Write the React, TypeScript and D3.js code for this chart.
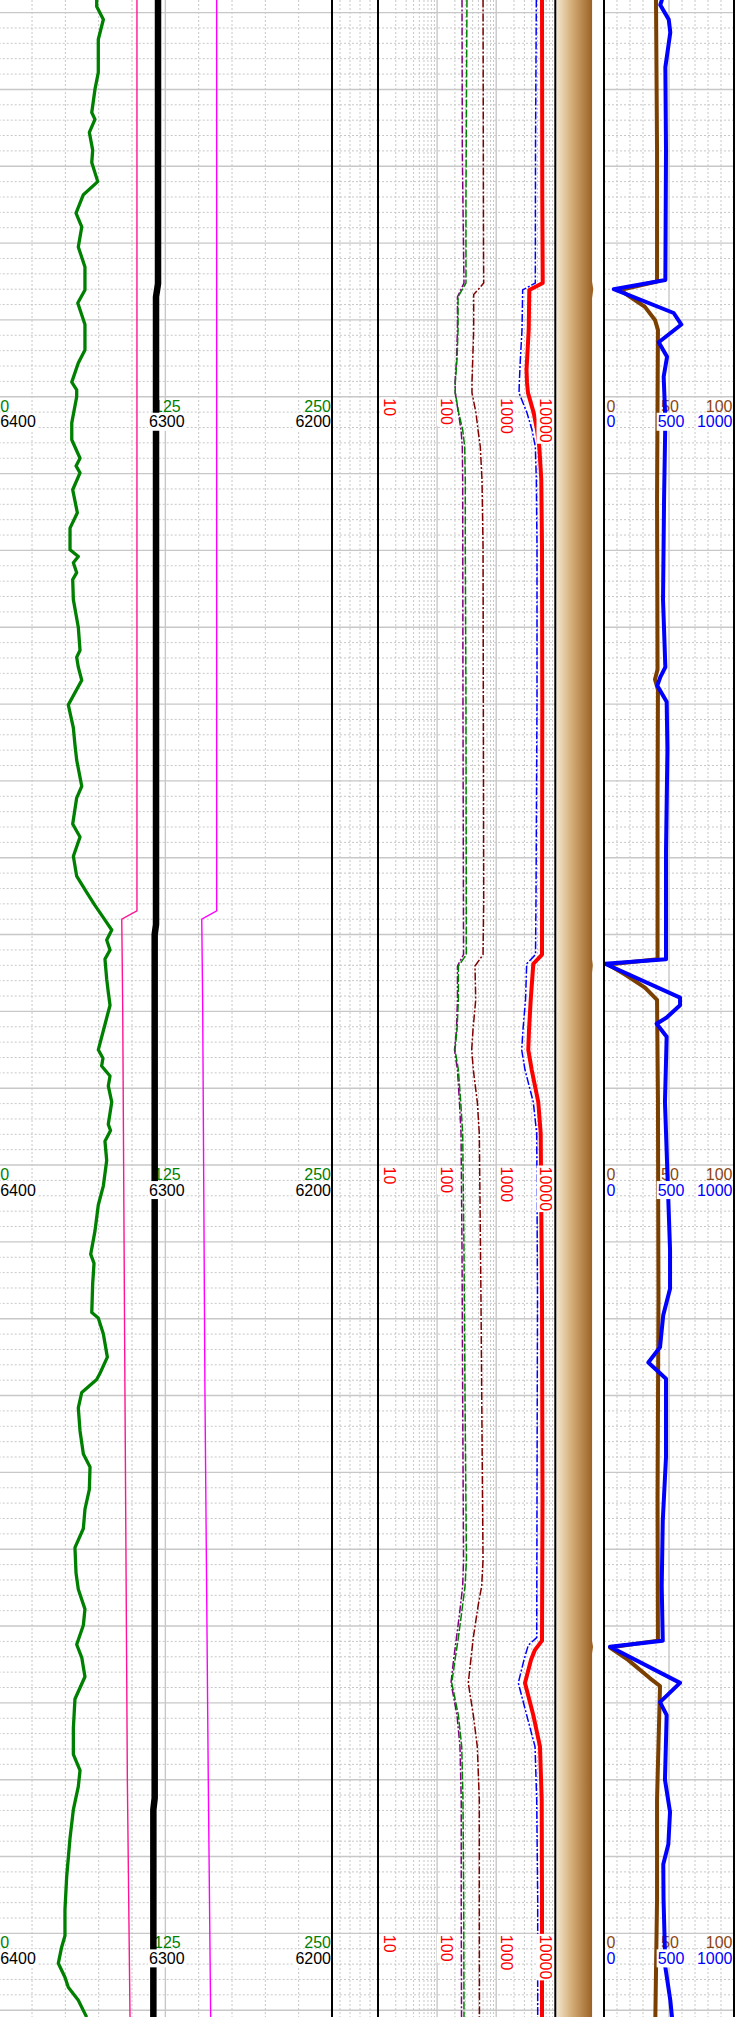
import React from 'react';
import * as d3 from 'd3';

const W = 744;
const H = 2017;

// ---------- depth axis ----------
const DEPTH_DOMAIN = [5000, 5260];
const LABEL_DEPTHS = [5050, 5150, 5250];

// ---------- Track 1 ----------
const GR_DEPTH = [4998.3,4999.2,5000.9,5003.5,5007.8,5010.0,5013.0,5013.9,5015.6,5017.9,5019.5,5022.0,5023.7,5026.1,5027.9,5030.5,5033.1,5036.1,5037.8,5040.6,5043.9,5045.6,5048.1,5049.1,5050.0,5053.4,5055.6,5058.0,5059.0,5059.9,5062.1,5065.1,5067.1,5069.9,5070.8,5071.6,5072.9,5073.8,5076.4,5080.0,5083.0,5083.9,5085.2,5086.9,5090.1,5093.1,5095.3,5097.3,5100.7,5102.2,5105.6,5107.3,5109.8,5112.4,5114.5,5116.2,5117.8,5119.4,5120.7,5122.0,5123.2,5125.8,5127.5,5129.2,5131.7,5135.0,5136.1,5137.1,5138.4,5139.7,5141.8,5144.7,5145.5,5146.9,5149.4,5152.7,5155.2,5158.6,5161.6,5162.8,5165.4,5169.2,5169.9,5172.0,5175.0,5177.1,5177.9,5179.6,5181.6,5184.6,5187.6,5189.3,5192.2,5194.8,5197.3,5199.8,5203.1,5205.2,5207.8,5209.9,5212.4,5214.1,5216.6,5219.5,5223.3,5226.7,5228.8,5230.9,5233.9,5237.6,5242.6,5246.9,5250.3,5251.8,5253.9,5255.7,5257.0,5258.7,5260.9];
const GR = [73.5,73.5,78.5,74.7,74.7,72.2,69.8,72.2,68.0,70.5,69.8,74.3,63.5,58.0,62.3,59.7,64.7,64.7,59.3,64.7,64.7,59.7,54.8,58.5,58.5,54.8,54.8,61.0,58.0,61.0,55.5,59.0,53.5,53.5,59.7,56.0,58.5,55.5,56.0,59.7,61.0,58.5,59.7,62.3,52.2,56.0,57.2,58.5,62.3,58.5,55.5,61.0,56.0,58.5,66.0,72.2,78.5,84.8,81.0,83.5,79.7,81.0,82.2,83.5,79.7,74.7,78.2,77.2,83.5,82.2,84.8,82.2,83.9,79.7,81.0,78.5,74.7,72.2,69.0,71.5,70.5,69.8,74.7,78.5,81.5,76.0,73.5,62.3,59.7,61.0,63.5,68.5,68.0,64.7,63.5,57.2,58.0,59.7,64.7,63.5,58.5,62.3,64.7,57.2,56.0,56.0,61.0,59.7,56.0,53.5,51.0,49.7,49.7,47.2,44.7,49.7,52.2,59.7,66.0];

const CAL_DEPTH = [4998.3,5035.3,5037.0,5118.7,5120.0,5232.4,5233.9,5260.9];
const CAL = [6304.4,6304.4,6305.6,6305.6,6306.4,6306.4,6307.2,6307.2];

const PINK_DEPTH = [4998.3,5116.9,5118.0,5129.2,5179.5,5230.0,5260.9];
const PINK = [103.7,103.7,92.3,93.0,94.7,96.5,98.5];
const MAG = [163.5,163.5,152.3,153.0,154.7,157.2,159.0];

// ---------- Track 3 (log) ----------
const LG_DEPTH = [4998.3,5011.4,5024.4,5035.2,5037.0,5041.3,5045.2,5048.2,5049.5,5052.1,5054.3,5056.5,5060.8,5069.5,5089.4,5115.5,5122.6,5124.1,5128.5,5132.4,5135.0,5137.6,5141.8,5145.9,5161.0,5180.6,5201.4,5204.8,5207.9,5211.5,5214.4,5217.4,5221.6,5225.7,5232.6,5245.6,5260.9];
const LG = [320,314,308,308,226,226,217,203,203,232,271,293,300,300,308,312,312,229,229,217,201,229,251,271,285,297,314,297,264,229,201,177,229,261,274,282,285];

const PU_DEPTH = [4998.3,5017.9,5030.9,5035.2,5037.0,5041.3,5045.2,5048.2,5049.5,5052.1,5054.3,5056.5,5060.8,5089.4,5122.6,5124.1,5128.5,5132.4,5135.0,5137.6,5141.8,5145.9,5161.0,5180.6,5201.4,5204.8,5207.9,5211.5,5214.4,5217.4,5221.6,5225.7,5232.6,5245.6,5260.9];
const PU = [264,267,280,285,221,221,213,201,203,229,254,267,271,274,280,221,221,213,197,221,239,254,264,271,280,271,244,213,190,172,217,244,256,256,259];

const MR_DEPTH = [4998.3,5030.9,5035.2,5036.7,5041.3,5048.2,5049.5,5052.1,5054.3,5056.5,5060.8,5069.5,5115.5,5122.6,5124.1,5128.5,5132.4,5135.0,5137.6,5141.8,5145.9,5167.5,5193.6,5201.4,5204.8,5207.2,5211.5,5217.4,5221.6,5225.7,5232.6,5245.6,5260.9];
const MR = [599,610,615,416,416,389,389,455,492,538,575,599,615,599,438,450,405,385,410,479,518,553,587,599,568,498,410,337,410,479,518,518,521];

const BL_DEPTH = [4998.3,5017.9,5035.2,5036.1,5041.3,5045.2,5048.2,5049.5,5052.1,5054.3,5056.5,5060.8,5069.5,5089.4,5115.5,5122.6,5123.8,5128.5,5132.4,5135.0,5137.6,5141.8,5145.9,5167.5,5193.6,5211.5,5212.5,5214.4,5217.4,5221.6,5225.7,5232.6,5245.6,5260.9];
const BL = [4775,4625,4590,2806,2733,2560,2461,2432,3321,4036,4590,4775,4900,4900,4714,4625,3282,3133,2839,2700,3069,4245,4844,4998,4900,4844,3491,2953,2366,3282,4539,4844,5035,5035];

const RD_DEPTH = [4998.3,5024.4,5035.2,5036.1,5041.3,5046.5,5048.2,5049.5,5052.1,5054.3,5056.5,5060.8,5069.5,5089.4,5122.6,5123.8,5128.5,5132.4,5135.0,5137.6,5141.8,5145.9,5167.5,5193.6,5211.9,5213.1,5214.4,5217.4,5221.6,5225.7,5232.6,5245.6,5260.9];
const RD = [5957,6026,6120,3631,3548,3257,3321,3451,4311,4900,5358,5794,5957,6026,5957,4245,3837,3590,3491,3990,5152,5662,5957,6073,5957,4539,3882,3069,4245,5508,5888,5957,5957];

// ---------- Track 4 (fill) ----------
const FILL_DEPTH = [4998.3,5035.0,5036.0,5037.2,5123.2,5124.0,5125.0,5211.9,5212.7,5213.6,5260.9];
const FILL = [0.755,0.755,0.78,0.755,0.755,0.77,0.755,0.755,0.775,0.755,0.755];

// ---------- Track 5 ----------
const BR_DEPTH = [4998.3,5017.9,5035.0,5036.1,5037.0,5038.3,5040.0,5041.3,5063.4,5085.5,5086.8,5088.1,5102.5,5123.2,5123.9,5125.2,5126.9,5128.5,5141.5,5167.5,5193.6,5211.9,5212.8,5214.4,5216.8,5217.8,5232.6,5245.6,5260.9];
const BR = [40.0,40.8,40.8,12.3,20.0,31.5,39.2,41.5,40.8,41.2,39.2,41.5,41.2,41.2,3.1,16.2,31.5,40.8,41.5,41.9,41.2,41.5,4.6,18.5,35.4,43.1,40.8,40.8,39.5];

const DT_DEPTH = [4998.3,4999.0,5000.9,5002.6,5007.1,5017.9,5034.8,5036.0,5039.1,5040.6,5042.9,5044.8,5047.4,5053.0,5063.4,5076.4,5085.2,5086.5,5087.6,5089.7,5095.9,5109.0,5123.2,5123.8,5128.2,5129.2,5130.8,5131.6,5133.3,5141.8,5161.0,5166.1,5169.5,5173.7,5175.7,5177.8,5188.0,5196.3,5204.8,5211.9,5212.7,5217.4,5219.9,5221.6,5230.0,5234.2,5238.4,5241.0,5245.6,5254.4,5258.7,5260.9];
const DT = [446,433,498,510,472,477,472,75,536,595,421,485,459,472,462,454,472,433,410,482,488,477,477,8,585,585,482,405,482,469,508,508,456,431,341,477,477,452,444,452,46,585,431,482,469,508,495,456,458,472,510,523];

// ---------- layout ----------
const T1 = [-1.3, 332];
const T2 = [332, 378];
const T3 = [378, 555.3];
const T4 = [555.3, 604];
const T5 = [604, 734];

const FONT = "'Liberation Sans', Arial, sans-serif";

const y = d3.scaleLinear().domain(DEPTH_DOMAIN).range([12.6, 2010.2]);
const xGR = d3.scaleLinear().domain([0, 250]).range(T1);
const xCAL = d3.scaleLinear().domain([6400, 6200]).range(T1);
const xLog = d3.scaleLog().domain([10, 10000]).range(T3);
const xFill = d3.scaleLinear().domain([0, 1]).range(T4);
const xBR = d3.scaleLinear().domain([0, 100]).range(T5);
const xDT = d3.scaleLinear().domain([0, 1000]).range(T5);

function pathOf(depths: number[], vals: number[], xs: (v: number) => number) {
  const pts = depths.map((d, i) => [xs(vals[i]), y(d)] as [number, number]);
  return d3.line()(pts) || '';
}

const GRID = '#c8c8c8';

function HGrid({ x0, x1 }: { x0: number; x1: number }) {
  const ds = d3.range(4998, 5262, 2);
  return (
    <g>
      {ds.map((d) => {
        const major = d % 10 === 0;
        return (
          <line key={d} x1={x0} x2={x1} y1={y(d)} y2={y(d)} stroke={GRID}
            strokeWidth={major ? 1.4 : 1} strokeDasharray={major ? undefined : '2,2'} />
        );
      })}
    </g>
  );
}

function VLine({ x, solid }: { x: number; solid: boolean }) {
  return <line x1={x} x2={x} y1={0} y2={H} stroke={GRID} strokeWidth={solid ? 1.4 : 1}
    strokeDasharray={solid ? undefined : '2,2'} />;
}

function Label({ x, yy, text, anchor, color, bg }: any) {
  const w = text.length * 8.9;
  const left = anchor === 'start' ? x : anchor === 'middle' ? x - w / 2 : x - w;
  return (
    <g>
      {bg && <rect x={left - 1} y={yy - 14.5} width={w + 2} height={18} fill="#fff" />}
      <text x={x} y={yy} textAnchor={anchor} fill={color} fontSize={16} fontFamily={FONT}>{text}</text>
    </g>
  );
}

function RotLabel({ x, yy, text, color }: any) {
  const w = text.length * 8.9;
  return (
    <g transform={`translate(${x},${yy}) rotate(90)`}>
      <rect x={-1} y={-14.5} width={w + 2} height={18} fill="#fff" />
      <text x={0} y={0} fill={color} fontSize={16} fontFamily={FONT}>{text}</text>
    </g>
  );
}

export default function App() {
  const t1Grid = d3.range(25, 250, 25);
  const t5Grid = d3.range(10, 100, 10);
  const logGrid: number[] = [];
  [10, 100, 1000].forEach((dec) => { for (let k = 1; k <= 9; k++) if (dec * k > 10) logGrid.push(dec * k); });
  const t2Grid = [340, 350, 360, 370];

  const fillPts = FILL_DEPTH.map((d, i) => ({ d, v: FILL[i] }));
  const fillArea = d3.area<{ d: number; v: number }>()
    .y((p) => y(p.d)).x0(T4[0] + 1).x1((p) => xFill(p.v))(fillPts) || '';

  const logLabels = [
    { t: '10', x: 384 }, { t: '100', x: 440.5 }, { t: '1000', x: 500.5 }, { t: '10000', x: 540 },
  ];

  return (
    <svg width={W} height={H} style={{ position: 'absolute', left: 0, top: 0, background: '#fff' }}>
      <defs>
        <linearGradient id="lith" gradientUnits="userSpaceOnUse" x1={T4[0]} x2={xFill(0.755)} y1={0} y2={0}>
          <stop offset="0%" stopColor="#f6ebd6" />
          <stop offset="45%" stopColor="#d3ad76" />
          <stop offset="100%" stopColor="#9c6226" />
        </linearGradient>
      </defs>
      <rect x={0} y={0} width={W} height={H} fill="#fff" />

      {/* grids */}
      <HGrid x0={T1[0]} x1={T1[1]} />
      <HGrid x0={T2[0]} x1={T2[1]} />
      <HGrid x0={T3[0]} x1={T3[1]} />
      <HGrid x0={T5[0]} x1={T5[1]} />
      {t1Grid.map((v) => <VLine key={'a' + v} x={xGR(v)} solid={v === 125} />)}
      {t2Grid.map((v) => <VLine key={'b' + v} x={v} solid={false} />)}
      {logGrid.map((v) => <VLine key={'c' + v} x={xLog(v)} solid={v === 100 || v === 1000} />)}
      {t5Grid.map((v) => <VLine key={'e' + v} x={xBR(v)} solid={v === 50} />)}

      {/* row-1 labels under curves */}
      {LABEL_DEPTHS.map((d) => {
        const yy = y(d) + 15;
        return (
          <g key={'r1' + d}>
            <Label x={T1[0] + 1.5} yy={yy} text="0" anchor="start" color="#008000" />
            <Label x={(T1[0] + T1[1]) / 2 + 2} yy={yy} text="125" anchor="middle" color="#008000" />
            <Label x={T1[1] - 1} yy={yy} text="250" anchor="end" color="#008000" />
            <Label x={T5[0] + 2.5} yy={yy} text="0" anchor="start" color="#8b4513" />
            <Label x={(T5[0] + T5[1]) / 2 + 1} yy={yy} text="50" anchor="middle" color="#8b4513" />
            <Label x={T5[1] - 1.5} yy={yy} text="100" anchor="end" color="#8b4513" />
          </g>
        );
      })}

      {/* Track 4 fill */}
      <path d={fillArea} fill="url(#lith)" />

      {/* Track 1 curves */}
      <path d={pathOf(PINK_DEPTH, PINK, xGR)} fill="none" stroke="#ff1493" strokeWidth={1.4} />
      <path d={pathOf(PINK_DEPTH, MAG, xGR)} fill="none" stroke="#ff00ff" strokeWidth={1.4} />
      <path d={pathOf(GR_DEPTH, GR, xGR)} fill="none" stroke="#008000" strokeWidth={3.3} strokeLinejoin="round" />
      <path d={pathOf(CAL_DEPTH, CAL, xCAL)} fill="none" stroke="#000" strokeWidth={6.5} />

      {/* Track 3 curves */}
      <path d={pathOf(PU_DEPTH, PU, xLog)} fill="none" stroke="#800080" strokeWidth={1.5} strokeDasharray="8,2,2,2" />
      <path d={pathOf(LG_DEPTH, LG, xLog)} fill="none" stroke="#008000" strokeWidth={1.5} strokeDasharray="8,2" />
      <path d={pathOf(MR_DEPTH, MR, xLog)} fill="none" stroke="#800000" strokeWidth={1.5} strokeDasharray="8,2,2,2" />
      <path d={pathOf(BL_DEPTH, BL, xLog)} fill="none" stroke="#0000ff" strokeWidth={1.5} strokeDasharray="8,2,2,2" />
      <path d={pathOf(RD_DEPTH, RD, xLog)} fill="none" stroke="#ff0000" strokeWidth={4} strokeLinejoin="round" />

      {/* Track 5 curves */}
      <path d={pathOf(BR_DEPTH, BR, xBR)} fill="none" stroke="#7b3f00" strokeWidth={4} strokeLinejoin="round" />
      <path d={pathOf(DT_DEPTH, DT, xDT)} fill="none" stroke="#0000ff" strokeWidth={4} strokeLinejoin="round" />

      {/* row-2 labels on top */}
      {LABEL_DEPTHS.map((d) => {
        const yy = y(d) + 30.5;
        return (
          <g key={'r2' + d}>
            <Label x={T1[0] + 1.5} yy={yy} text="6400" anchor="start" color="#000" bg />
            <Label x={(T1[0] + T1[1]) / 2 + 1.5} yy={yy} text="6300" anchor="middle" color="#000" bg />
            <Label x={T1[1] - 1} yy={yy} text="6200" anchor="end" color="#000" bg />
            <Label x={T5[0] + 2.5} yy={yy} text="0" anchor="start" color="#0000ff" bg />
            <Label x={(T5[0] + T5[1]) / 2 + 2} yy={yy} text="500" anchor="middle" color="#0000ff" bg />
            <Label x={T5[1] - 1.5} yy={yy} text="1000" anchor="end" color="#0000ff" bg />
            {logLabels.map((l) => <RotLabel key={l.t} x={l.x} yy={y(d) + 1.5} text={l.t} color="#ff0000" />)}
          </g>
        );
      })}

      {/* track borders */}
      {[T1[1], T2[1], T3[1], T4[1], T5[1]].map((x) => (
        <line key={'bd' + x} x1={x} x2={x} y1={0} y2={H} stroke="#000" strokeWidth={2} />
      ))}
    </svg>
  );
}
